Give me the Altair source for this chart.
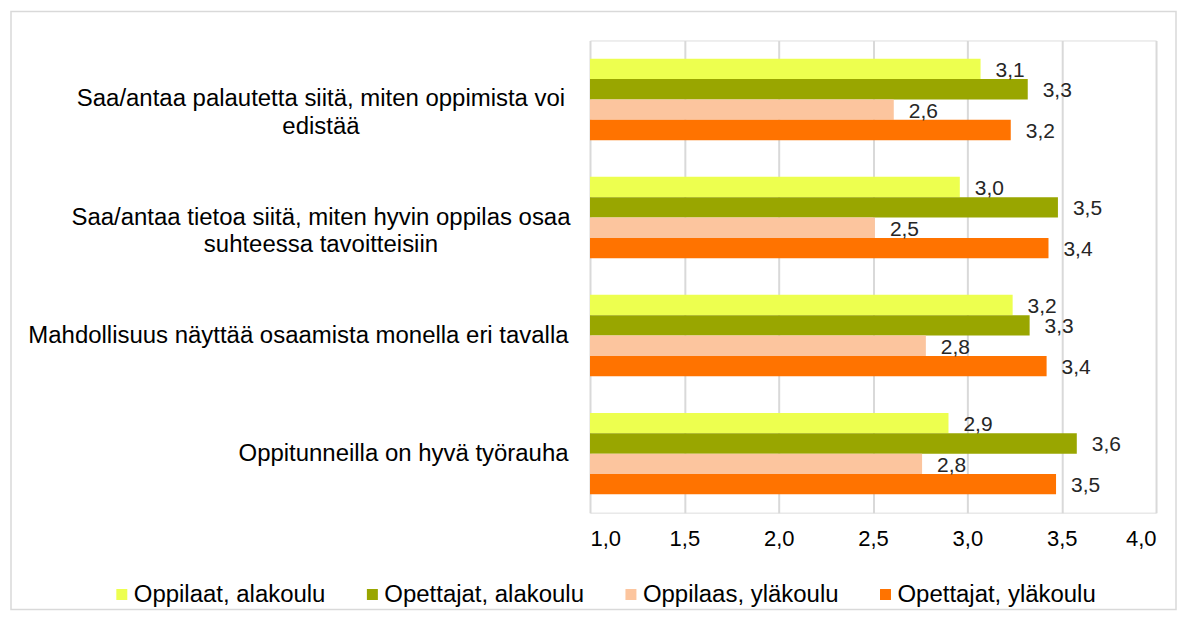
import altair as alt
import pandas as pd

categories = [
    "Saa/antaa palautetta siitä, miten oppimista voi|edistää",
    "Saa/antaa tietoa siitä, miten hyvin oppilas osaa|suhteessa tavoitteisiin",
    "Mahdollisuus näyttää osaamista monella eri tavalla",
    "Oppitunneilla on hyvä työrauha",
]
series = ["Oppilaat, alakoulu", "Opettajat, alakoulu", "Oppilaas, yläkoulu", "Opettajat, yläkoulu"]
colors = ["#EDFF4F", "#99A600", "#FCC59E", "#FF7300"]

oppilaat_ala = [3.07, 2.96, 3.24, 2.90]
opettajat_ala = [3.32, 3.48, 3.33, 3.58]
oppilaat_yla = [2.61, 2.51, 2.78, 2.76]
opettajat_yla = [3.23, 3.43, 3.42, 3.47]

ticks = [1.0, 1.5, 2.0, 2.5, 3.0, 3.5, 4.0]

rows = []
for s, vals in zip(series, [oppilaat_ala, opettajat_ala, oppilaat_yla, opettajat_yla]):
    for c, v in zip(categories, vals):
        rows.append({"category": c, "series": s, "value": v})
df = pd.DataFrame(rows)

FONT = "Liberation Sans"

y_enc = alt.Y(
    "category:N",
    sort=categories,
    scale=alt.Scale(paddingInner=0.31, paddingOuter=0.155),
    axis=alt.Axis(
        title=None,
        domain=False,
        ticks=False,
        labelFontSize=24,
        labelColor="#000000",
        labelLimit=1000,
        labelExpr="split(datum.label, '|')",
        labelLineHeight=28,
        labelAlign={"condition": {"test": "indexof(datum.value, '|') >= 0", "value": "center"}, "value": "right"},
        labelPadding={"condition": {"test": "indexof(datum.value, '|') >= 0", "value": 270}, "value": 22},
    ),
)
yoff = alt.YOffset("series:N", sort=series, scale=alt.Scale(paddingInner=0, paddingOuter=0))

x_enc = alt.X(
    "value:Q",
    scale=alt.Scale(domain=[1, 4], nice=False, zero=False),
    axis=alt.Axis(
        title=None,
        values=ticks,
        labelExpr="replace(format(datum.value, '.1f'), '.', ',')",
        grid=True,
        gridColor="#D9D9D9",
        gridWidth=2,
        domain=False,
        ticks=False,
        labelPadding=16,
        labelFontSize=22,
        labelColor="#000000",
    ),
)

base = alt.Chart(df)

bars = base.mark_bar().encode(
    x=x_enc,
    x2=alt.datum(1),
    y=y_enc,
    yOffset=yoff,
    color=alt.Color(
        "series:N",
        sort=series,
        scale=alt.Scale(domain=series, range=colors),
        legend=alt.Legend(
            orient="none",
            legendX=-481,
            legendY=543,
            direction="horizontal",
            columns=4,
            title=None,
            symbolType="square",
            symbolSize=121,
            symbolStrokeWidth=0,
            labelFontSize=24,
            labelOffset=0,
            labelColor="#000000",
            labelLimit=1000,
            columnPadding=34,
            padding=0,
        ),
    ),
)

labels = base.transform_calculate(
    lab="replace(format(datum.value, '.1f'), '.', ',')"
).mark_text(
    align="left", baseline="middle", dx=15, dy=2, fontSize=21, color="#262626", font=FONT
).encode(
    x="value:Q",
    y=alt.Y("category:N", sort=categories),
    yOffset=alt.YOffset("series:N", sort=series),
    text="lab:N",
)

frame = alt.Chart(pd.DataFrame({"f": [0]})).mark_rect(
    fillOpacity=0, stroke="#D9D9D9", strokeWidth=1.5
).encode(
    x=alt.value(-580), x2=alt.value(587), y=alt.value(-29), y2=alt.value(570)
)

chart = alt.layer(frame, bars, labels).properties(
    width=567, height=473, padding=2
).configure_view(stroke=None).configure(font=FONT).configure_axis(
    labelFont=FONT
).configure_legend(labelFont=FONT)

chart.save("out.html", embed_options={"renderer": "svg", "actions": False})
